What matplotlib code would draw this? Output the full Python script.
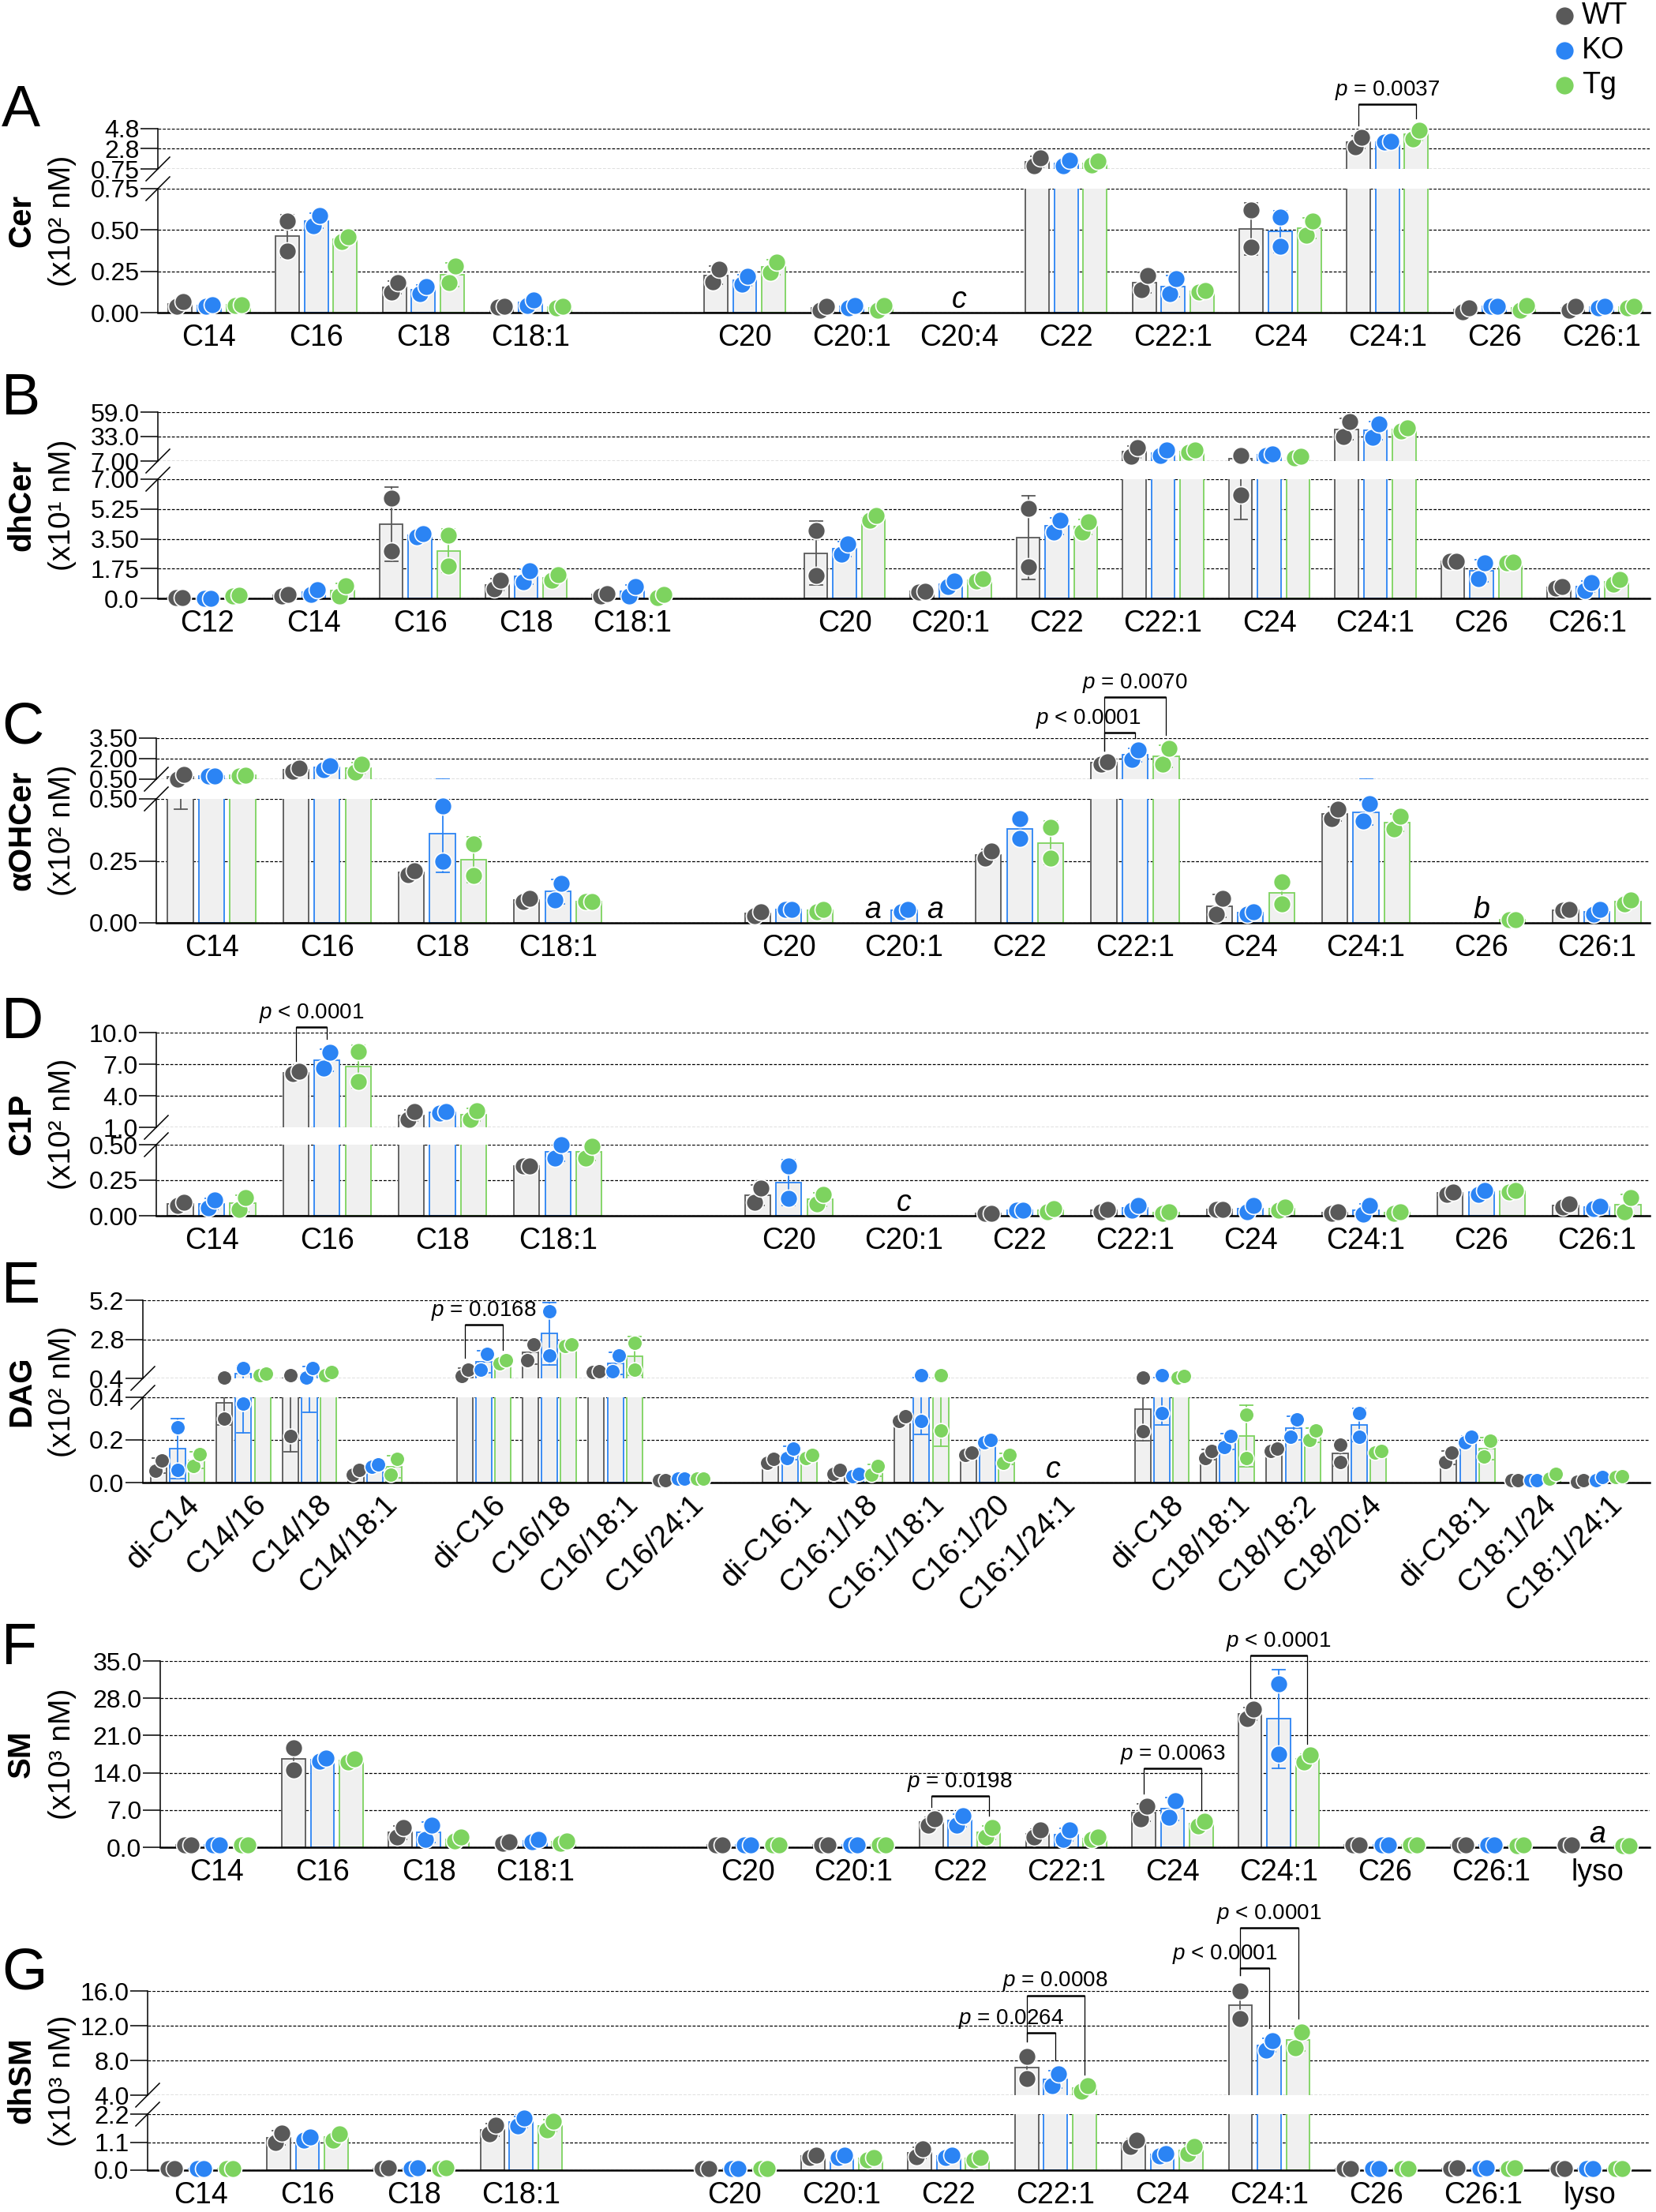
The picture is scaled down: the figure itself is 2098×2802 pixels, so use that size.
import numpy as np
import matplotlib
matplotlib.use("Agg")
import matplotlib.pyplot as plt
from matplotlib.lines import Line2D
from matplotlib.transforms import IdentityTransform, ScaledTranslation

plt.rcParams['font.family'] = ['Liberation Sans', 'DejaVu Sans']
plt.rcParams['mathtext.fontset'] = 'custom'
plt.rcParams['mathtext.it'] = 'Liberation Sans:italic'
plt.rcParams['mathtext.rm'] = 'Liberation Sans'

W, H = 2098, 2802
DPI = 100
RIGHT = 2090

GROUPS = ["WT", "KO", "Tg"]
DOT_COLORS = ["#595959", "#2b84f4", "#7dd35f"]
BAR_FILL = "#f0f0f0"

# ---------------- data (two replicates per bar, None = not detected) ----------------
A_cats = ["C14", "C16", "C18", "C18:1", "C20", "C20:1", "C20:4", "C22", "C22:1", "C24", "C24:1", "C26", "C26:1"]
A_wt = [(0.038, 0.067), (0.372, 0.554), (0.124, 0.18), (0.035, 0.04), (0.187, 0.264), (0.013, 0.04), None,
        (1.07, 1.86), (0.139, 0.225), (0.396, 0.62), (3.0, 3.9), (0.005, 0.03), (0.015, 0.04)]
A_ko = [(0.04, 0.05), (0.525, 0.587), (0.116, 0.157), (0.043, 0.077), (0.171, 0.22), (0.03, 0.045), None,
        (1.07, 1.62), (0.115, 0.205), (0.40, 0.58), (3.45, 3.5), (0.037, 0.04), (0.03, 0.04)]
A_tg = [(0.045, 0.048), (0.43, 0.458), (0.18, 0.28), (0.03, 0.038), (0.243, 0.307), (0.013, 0.045), None,
        (1.15, 1.54), (0.124, 0.133), (0.468, 0.554), (3.77, 4.64), (0.013, 0.045), (0.03, 0.04)]

B_cats = ["C12", "C14", "C16", "C18", "C18:1", "C20", "C20:1", "C22", "C22:1", "C24", "C24:1", "C26", "C26:1"]
B_wt = [(0.05, 0.05), (0.14, 0.22), (2.8, 5.9), (0.55, 1.05), (0.14, 0.28), (1.33, 4.0), (0.36, 0.43),
        (1.85, 5.3), (12.0, 21.3), (6.07, 12.9), (33.0, 48.9), (2.2, 2.2), (0.6, 0.68)]
B_ko = [(0.02, 0.02), (0.22, 0.5), (3.6, 3.8), (0.98, 1.6), (0.14, 0.68), (2.6, 3.2), (0.7, 1.0),
        (3.9, 4.6), (12.9, 18.7), (12.9, 14.5), (32.2, 46.4), (1.16, 2.1), (0.45, 0.92)]
B_tg = [(0.14, 0.19), (0.14, 0.75), (1.9, 3.7), (1.05, 1.4), (0.05, 0.22), (4.6, 4.85), (1.0, 1.15),
        (3.9, 4.5), (16.2, 18.7), (10.4, 12.0), (38.9, 42.3), (2.1, 2.15), (0.84, 1.1)]

C_cats = ["C14", "C16", "C18", "C18:1", "C20", "C20:1", "C22", "C22:1", "C24", "C24:1", "C26", "C26:1"]
C_wt = [(0.52, 0.82), (1.08, 1.3), (0.195, 0.21), (0.087, 0.1), (0.03, 0.045), None, (0.26, 0.29),
        (1.6, 1.77), (0.035, 0.1), (0.42, 0.46), None, (0.05, 0.055)]
C_ko = [(0.73, 0.75), (1.2, 1.5), (0.25, 0.47), (0.092, 0.16), (0.055, 0.055), (0.045, 0.055), (0.34, 0.42),
        (1.94, 2.63), (0.035, 0.045), (0.41, 0.48), None, (0.035, 0.055)]
C_tg = [(0.73, 0.79), (1.0, 1.6), (0.19, 0.32), (0.087, 0.087), (0.045, 0.055), None, (0.26, 0.385),
        (1.6, 2.75), (0.077, 0.166), (0.38, 0.43), (0.013, 0.013), (0.077, 0.092)]

D_cats = ["C14", "C16", "C18", "C18:1", "C20", "C20:1", "C22", "C22:1", "C24", "C24:1", "C26", "C26:1"]
D_wt = [(0.072, 0.094), (6.1, 6.3), (1.75, 2.5), (0.35, 0.35), (0.094, 0.195), None, (0.017, 0.017),
        (0.028, 0.045), (0.045, 0.045), (0.017, 0.028), (0.15, 0.167), (0.06, 0.083)]
D_ko = [(0.055, 0.11), (6.6, 8.1), (2.35, 2.5), (0.405, 0.5), (0.122, 0.35), None, (0.04, 0.04),
        (0.04, 0.07), (0.028, 0.07), (0.01, 0.072), (0.15, 0.18), (0.05, 0.067)]
D_tg = [(0.045, 0.128), (5.35, 8.2), (1.75, 2.6), (0.405, 0.49), (0.083, 0.15), None, (0.028, 0.05),
        (0.017, 0.028), (0.04, 0.06), (0.017, 0.028), (0.167, 0.18), (0.028, 0.128)]

E_cats = ["di-C14", "C14/16", "C14/18", "C14/18:1", "di-C16", "C16/18", "C16/18:1", "C16/24:1",
          "di-C16:1", "C16:1/18", "C16:1/18:1", "C16:1/20", "C16:1/24:1",
          "di-C18", "C18/18:1", "C18/18:2", "C18/20:4", "di-C18:1", "C18:1/24", "C18:1/24:1"]
E_wt = [(0.055, 0.104), (0.3, 0.45), (0.22, 0.59), (0.037, 0.06), (0.55, 0.93), (1.5, 2.5), (0.79, 0.85),
        (0.01, 0.01), (0.092, 0.11), (0.04, 0.06), (0.29, 0.31), (0.13, 0.14), None, (0.24, 0.45),
        (0.115, 0.148), (0.15, 0.16), (0.096, 0.178), (0.096, 0.14), (0.01, 0.01), (0.005, 0.01)]
E_ko = [(0.06, 0.26), (0.37, 1.03), (0.45, 1.03), (0.074, 0.085), (0.93, 1.9), (1.8, 4.5), (0.85, 1.8),
        (0.02, 0.02), (0.115, 0.16), (0.03, 0.04), (0.29, 0.6), (0.19, 0.2), None, (0.326, 0.59),
        (0.167, 0.22), (0.215, 0.296), (0.215, 0.326), (0.19, 0.215), (0.01, 0.01), (0.01, 0.025)]
E_tg = [(0.078, 0.133), (0.59, 0.69), (0.59, 0.79), (0.037, 0.11), (1.32, 1.5), (2.4, 2.5), (0.93, 2.6),
        (0.02, 0.02), (0.115, 0.13), (0.037, 0.078), (0.245, 0.6), (0.092, 0.13), None, (0.45, 0.55),
        (0.115, 0.32), (0.2, 0.245), (0.14, 0.148), (0.122, 0.196), (0.02, 0.04), (0.025, 0.03)]

F_cats = ["C14", "C16", "C18", "C18:1", "C20", "C20:1", "C22", "C22:1", "C24", "C24:1", "C26", "C26:1", "lyso"]
F_wt = [(0.4, 0.4), (14.6, 18.7), (1.9, 3.7), (0.8, 1.0), (0.4, 0.5), (0.4, 0.5), (4.2, 5.4), (1.9, 3.2),
        (5.4, 7.7), (24.2, 25.9), (0.4, 0.4), (0.4, 0.5), (0.4, 0.4)]
F_ko = [(0.4, 0.4), (16.2, 16.8), (1.5, 4.2), (1.0, 1.5), (0.4, 0.5), (0.4, 0.5), (4.2, 5.9), (1.5, 3.2),
        (5.7, 8.7), (17.5, 30.7), (0.4, 0.4), (0.4, 0.5), None]
F_tg = [(0.4, 0.4), (16.0, 16.6), (1.2, 1.9), (0.8, 1.2), (0.4, 0.5), (0.4, 0.5), (1.9, 3.7), (1.5, 1.9),
        (4.0, 4.9), (16.0, 17.3), (0.4, 0.5), (0.3, 0.4), (0.3, 0.3)]

G_cats = ["C14", "C16", "C18", "C18:1", "C20", "C20:1", "C22", "C22:1", "C24", "C24:1", "C26", "C26:1", "lyso"]
G_wt = [(0.05, 0.05), (1.08, 1.46), (0.05, 0.1), (1.42, 1.77), (0.05, 0.05), (0.5, 0.6), (0.53, 0.84),
        (5.9, 8.45), (0.93, 1.18), (12.8, 16.0), (0.05, 0.05), (0.05, 0.1), (0.05, 0.05)]
G_ko = [(0.05, 0.05), (1.18, 1.3), (0.05, 0.1), (1.74, 2.05), (0.05, 0.05), (0.5, 0.6), (0.5, 0.6),
        (5.1, 6.5), (0.57, 0.64), (9.2, 10.3), (0.05, 0.05), (0.05, 0.1), (0.05, 0.05)]
G_tg = [(0.05, 0.05), (1.18, 1.42), (0.05, 0.1), (1.58, 1.92), (0.05, 0.05), (0.4, 0.5), (0.4, 0.5),
        (4.5, 5.1), (0.65, 0.93), (9.5, 11.3), (0.05, 0.05), (0.05, 0.1), (0.05, 0.05)]

# significance brackets: (category, group a, group b, bracket level, text)
A_pvals = [("C24:1", 0, 2, 7.3, "= 0.0037")]
C_pvals = [("C22:1", 0, 1, 3.9, "< 0.0001"), ("C22:1", 0, 2, 6.5, "= 0.0070")]
D_pvals = [("C16", 0, 1, 10.5, "< 0.0001")]
E_pvals = [("di-C16", 0, 2, 3.7, "= 0.0168")]
F_pvals = [("C22", 0, 2, 9.6, "= 0.0198"), ("C24", 0, 2, 14.8, "= 0.0063"), ("C24:1", 0, 2, 36.0, "< 0.0001")]
G_pvals = [("C22:1", 0, 1, 11.2, "= 0.0264"), ("C22:1", 0, 2, 15.5, "= 0.0008"),
           ("C24:1", 0, 1, 18.6, "< 0.0001"), ("C24:1", 0, 2, 23.3, "< 0.0001")]

# letters for undetected species: (category, group slot, letter)
A_notes = [("C20:4", 1, "c")]
C_notes = [("C20:1", 0, "a"), ("C20:1", 2, "a"), ("C26", 1, "b")]
D_notes = [("C20:1", 1, "c")]
E_notes = [("C16:1/24:1", 1, "c")]
F_notes = [("lyso", 1, "a")]

fig = plt.figure(figsize=(W / DPI, H / DPI), dpi=DPI)
rotated = []   # (axes, label positions) for slanted tick labels, fixed after a first draw


def add_ax(left, top, bottom):
    return fig.add_axes([left / W, 1 - bottom / H, (RIGHT - left) / W, (bottom - top) / H])


def positions(n, breaks, gap):
    pos, p = [], 0.0
    for i in range(n):
        if i in breaks:
            p += gap
        pos.append(p)
        p += 1
    return np.array(pos)


def style_ax(ax, ticks, labels, is_top):
    for s in ["top", "right"]:
        ax.spines[s].set_visible(False)
    ax.spines["left"].set_linewidth(1.1)
    if is_top:
        ax.spines["bottom"].set_visible(False)
        ax.set_xticks([])
    else:
        ax.spines["bottom"].set_linewidth(1.8)
    ax.set_yticks(ticks)
    ax.set_yticklabels(labels)
    ax.tick_params(axis="y", length=16, width=1.1, pad=1, labelsize=23)
    ax.tick_params(axis="x", length=0, pad=10, labelsize=27)
    ax.yaxis.grid(True, linestyle=(0, (3, 1.6)), linewidth=0.9, color="black")
    ax.xaxis.grid(False)
    ax.set_axisbelow(True)
    ax.patch.set_alpha(0)


def pix(ax, x, y):
    return ax.transData.transform((x, y))


def draw_panel(letter, name, unit, cats, data, breaks, gap, x0, step, left, lower, upper,
               pvals=(), notes=(), bar_off=0.27, bar_w=0.22, dot_s=250, base_y=0, rot=False):
    pos = positions(len(cats), breaks, gap)
    xlim = ((left - x0) / step, (RIGHT - x0) / step)
    lo_top, lo_bot, lo_max, lo_ticks, lo_labels = lower
    ax_lo = add_ax(left, lo_top, lo_bot)
    ax_lo.set_xlim(*xlim)
    ax_lo.set_ylim(0, lo_max)
    style_ax(ax_lo, lo_ticks, lo_labels, False)
    axes = [ax_lo]
    ax_hi = None
    if upper:
        hi_top, hi_bot, hi_min, hi_max, hi_ticks, hi_labels = upper
        ax_hi = add_ax(left, hi_top, hi_bot)
        ax_hi.set_xlim(*xlim)
        ax_hi.set_ylim(hi_min, hi_max)
        style_ax(ax_hi, hi_ticks, hi_labels, True)
        axes.append(ax_hi)
        # break marks
        for yb in (hi_bot, lo_top):
            fig.add_artist(Line2D([left - 15, left + 15], [H - yb - 15, H - yb + 15],
                                  transform=IdentityTransform(), color="black", lw=1.1))
        top_px = hi_top
    else:
        top_px = lo_top

    def ax_for(v):
        return ax_hi if (ax_hi is not None and v > lo_max) else ax_lo

    ax_lo.set_xticks(pos)
    if rot:
        ax_lo.set_xticklabels(cats, rotation=45, ha="right", va="top", rotation_mode="anchor", fontsize=28)
        ax_lo.tick_params(axis="x", pad=6)
        rotated.append((ax_lo, pos, lo_bot))
    else:
        ax_lo.set_xticklabels(cats)

    jit = 4.0 / step
    cap = 8.0 / step
    tops = {}
    for g in range(3):
        col = DOT_COLORS[g]
        for i, vals in enumerate(data[g]):
            if vals is None:
                continue
            v = np.array(sorted(vals))
            m = v.mean()
            sd = v.std(ddof=1)
            x = pos[i] + (g - 1) * bar_off
            for ax in axes:
                ax.bar(x, m, bar_w, color=BAR_FILL, edgecolor=col, linewidth=1.3, zorder=2)
                if sd > 0:
                    ax.plot([x, x], [m - sd, m + sd], color=col, lw=1.3, zorder=3)
                    for yc in (m - sd, m + sd):
                        ax.plot([x - cap, x + cap], [yc, yc], color=col, lw=1.3, zorder=3)
            a0, a1 = ax_for(v[0]), ax_for(v[1])
            dy = abs(pix(a0, x, v[0])[1] - pix(a1, x, v[1])[1])
            xs = [x - jit, x + jit] if dy < 22 else [x, x]
            for xv, vv in zip(xs, v):
                ax_for(vv).scatter([xv], [vv], s=dot_s, color=col, edgecolor="white",
                                   linewidth=1.2, zorder=4, clip_on=False)
            top = max(v.max(), m + sd)
            tops[(i, g)] = pix(ax_for(top), x, top)[1]

    bax = ax_hi if ax_hi is not None else ax_lo
    for cat, ga, gb, lvl, txt in pvals:
        i = cats.index(cat)
        xa = pos[i] + (ga - 1) * bar_off
        xb = pos[i] + (gb - 1) * bar_off
        pa = pix(bax, xa, lvl)
        pb = pix(bax, xb, lvl)
        ya = tops.get((i, ga), pa[1] - 20) + 13
        yb = tops.get((i, gb), pb[1] - 20) + 13
        fig.add_artist(Line2D([pa[0], pb[0]], [pa[1], pb[1]], transform=IdentityTransform(),
                              color="black", lw=1.8, solid_capstyle="butt"))
        fig.add_artist(Line2D([pa[0], pa[0]], [pa[1], ya], transform=IdentityTransform(), color="black", lw=0.9))
        fig.add_artist(Line2D([pb[0], pb[0]], [pb[1], yb], transform=IdentityTransform(), color="black", lw=0.9))
        cx = (pa[0] + pb[0]) / 2
        stacked = any(p[0] == cat and p[3] > lvl for p in pvals)
        if stacked:
            cx = pa[0] - 20
        fig.text(cx / W, (pa[1] + 11) / H, "$p$ " + txt, ha="center", va="baseline", fontsize=20)

    for cat, g, lt in notes:
        i = cats.index(cat)
        x = pos[i] + (g - 1) * bar_off
        ax_lo.annotate(lt, (x, 0), xytext=(0, 4), textcoords="offset points", ha="center",
                       va="baseline", fontsize=27, style="italic", annotation_clip=False)

    mid = (top_px + lo_bot) / 2
    fig.text(27 / W, 1 - mid / H, name, rotation=90, fontweight="bold", fontsize=29, ha="center", va="center")
    fig.text(79 / W, 1 - mid / H, unit, rotation=90, fontsize=28, ha="center", va="center")
    fig.text(2 / W, 1 - base_y / H, letter, fontsize=53, ha="left", va="baseline")


draw_panel("A", "Cer", "(x10² nM)", A_cats, [A_wt, A_ko, A_tg], [4], 1.0, 265, 135.7, 200,
           (239, 396, 0.75, [0, 0.25, 0.5, 0.75], ["0.00", "0.25", "0.50", "0.75"]),
           (163, 214, 0.75, 4.8, [0.75, 2.8, 4.8], ["0.75", "2.8", "4.8"]),
           A_pvals, A_notes, base_y=160)

draw_panel("B", "dhCer", "(x10¹ nM)", B_cats, [B_wt, B_ko, B_tg], [5], 1.0, 263, 134.5, 200,
           (607, 758, 7.0, [0, 1.75, 3.5, 5.25, 7.0], ["0.0", "1.75", "3.50", "5.25", "7.00"]),
           (522, 584, 7.0, 59.0, [7, 33, 59], ["7.00", "33.0", "59.0"]),
           base_y=525)

draw_panel("C", "αOHCer", "(x10² nM)", C_cats, [C_wt, C_ko, C_tg], [4], 1.0, 268, 146.25, 198,
           (1012, 1169, 0.5, [0, 0.25, 0.5], ["0.00", "0.25", "0.50"]),
           (935, 987, 0.5, 3.5, [0.5, 2.0, 3.5], ["0.50", "2.00", "3.50"]),
           C_pvals, C_notes, base_y=942)

draw_panel("D", "C1P", "(x10² nM)", D_cats, [D_wt, D_ko, D_tg], [4], 1.0, 268, 146.25, 198,
           (1450, 1540, 0.5, [0, 0.25, 0.5], ["0.00", "0.25", "0.50"]),
           (1308, 1428, 1.0, 10.0, [1, 4, 7, 10], ["1.0", "4.0", "7.0", "10.0"]),
           D_pvals, D_notes, base_y=1315)

draw_panel("E", "DAG", "(x10² nM)", E_cats, [E_wt, E_ko, E_tg], [4, 8, 13, 17], 0.65, 225, 83.4, 181,
           (1770, 1878, 0.4, [0, 0.2, 0.4], ["0.0", "0.2", "0.4"]),
           (1647, 1746, 0.4, 5.2, [0.4, 2.8, 5.2], ["0.4", "2.8", "5.2"]),
           E_pvals, E_notes, bar_off=0.29, bar_w=0.24, dot_s=180, base_y=1650, rot=True)

draw_panel("F", "SM", "(x10³ nM)", F_cats, [F_wt, F_ko, F_tg], [4], 1.0, 274, 134.6, 203,
           (2104, 2340, 35.0, [0, 7, 14, 21, 28, 35], ["0.0", "7.0", "14.0", "21.0", "28.0", "35.0"]),
           None, F_pvals, F_notes, base_y=2108)

draw_panel("G", "dhSM", "(x10³ nM)", G_cats, [G_wt, G_ko, G_tg], [4], 1.0, 254, 135.4, 187,
           (2678, 2749, 2.2, [0, 1.1, 2.2], ["0.0", "1.1", "2.2"]),
           (2522, 2654, 4.0, 16.0, [4, 8, 12, 16], ["4.0", "8.0", "12.0", "16.0"]),
           G_pvals, base_y=2520)

# legend
for k, (lab, col) in enumerate(zip(GROUPS, DOT_COLORS)):
    y = H - (20 + 44 * k)
    fig.add_artist(Line2D([1982], [y], transform=IdentityTransform(), marker="o", markersize=17,
                          markerfacecolor=col, markeredgecolor="white", linestyle="none"))
    fig.text(2004 / W, y / H, lab, fontsize=27, ha="left", va="center")

# pin the slanted labels: top corner of each text box 10 px right of its tick, 10 px under the axis
fig.canvas.draw()
renderer = fig.canvas.get_renderer()
probe = fig.text(0, 0, "C14", fontsize=28)
box_h = probe.get_window_extent(renderer).height
probe.remove()
for ax, pos, axis_px in rotated:
    for lab, xp in zip(ax.get_xticklabels(), pos):
        bb = lab.get_window_extent(renderer)
        tick_x = ax.transData.transform((xp, 0))[0]
        want_top = H - (axis_px + 10)
        want_right = tick_x + 10 + box_h * np.sqrt(0.5)
        shift = ScaledTranslation((want_right - bb.x1) / DPI, (want_top - bb.y1) / DPI, fig.dpi_scale_trans)
        lab.set_transform(lab.get_transform() + shift)

fig.savefig("out.png", dpi=DPI)
